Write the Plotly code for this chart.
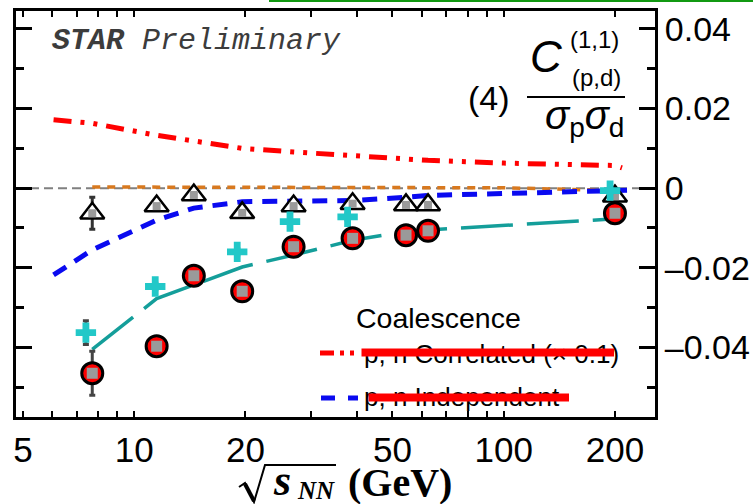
import plotly.graph_objects as go

# ---------------------------------------------------------------- data ----
# collision energies (GeV)
energy = [7.7, 11.5, 14.5, 19.6, 27, 39, 54.4, 62.4, 200]

# STAR preliminary C(1,1)(p,d)/(sigma_p sigma_d) -- red circles
star_val = [-0.0465, -0.0397, -0.0220, -0.0259, -0.0147, -0.0126, -0.0118, -0.0107, -0.0063]
star_err = [0.0055, 0.0010, 0.0010, 0.0010, 0.0008, 0.0008, 0.0008, 0.0008, 0.0008]

# open triangles
tri_val = [-0.0063, -0.0045, -0.0017, -0.0062, -0.0045, -0.0039, -0.0042, -0.0042, -0.0020]
tri_err = [0.0040, 0.0008, 0.0008, 0.0008, 0.0008, 0.0008, 0.0008, 0.0008, 0.0008]

# cyan crosses
cross_energy = [7.4, 11.4, 19.0, 26.4, 37.8, 194]
cross_val = [-0.0363, -0.0247, -0.0160, -0.0084, -0.0072, -0.0006]
cross_err = [0.0030, 0.0008, 0.0008, 0.0008, 0.0008, 0.0008]

# coalescence model: p, n correlated (x 0.1)
corr_energy = [6.05, 7.7, 11.5, 14.5, 19.6, 27, 39, 62.4, 100, 200, 209]
corr_val = [0.0172, 0.0163, 0.0133, 0.0120, 0.0100, 0.0091, 0.0083, 0.0070, 0.0063, 0.0057, 0.0051]

# coalescence model: p, n independent
indep_energy = [6.05, 7.7, 11.5, 14.5, 19.6, 27, 39, 54.4, 62.4, 115, 216]
indep_val = [-0.0218, -0.0155, -0.0080, -0.0050, -0.0034, -0.0033, -0.0031, -0.0023, -0.0018, -0.0012, -0.0005]

# dotted orange model curve
orange_energy = [7.7, 19.6, 39, 62.4, 100, 150, 200]
orange_val = [0.0003, 0.0003, 0.0003, 0.0002, 0.0001, -0.0003, -0.0006]

# long-dashed teal model curve
teal_energy = [7.7, 11.5, 14.5, 19.6, 27, 39, 54.4, 62.4, 200]
teal_val = [-0.0405, -0.02775, -0.0243, -0.0198, -0.0168, -0.0131, -0.0109, -0.0105, -0.0077]

x_ticks = [5, 10, 20, 50, 100, 200]
x_ticktext = ["5", "10", "20", "50", "100", "200"]
x_minor = [6, 7, 8, 9, 30, 40, 60, 70, 80, 90]
x_long = [10, 100]
y_ticks = [-0.04, -0.02, 0, 0.02, 0.04]
y_ticktext = ["\u20130.04", "\u20130.02", "0", "0.02", "0.04"]

# -------------------------------------------------------------- layout ----
W, H = 753, 504
L, R, T, B = 16, 98, 11, 87
PW, PH = W - L - R, H - T - B


def xp(px):
    return (px - L) / PW


def yp(py):
    return (H - B - py) / PH


def path(points):
    return "M " + " L ".join(f"{xp(x):.5f},{yp(y):.5f}" for x, y in points)


SANS = "Liberation Sans"
SERIF = "Liberation Serif"
MONO = "Liberation Mono"

fig = go.Figure()

fig.add_trace(go.Scatter(x=orange_energy, y=orange_val, mode="lines",
                         line=dict(color="#d8791f", width=3.5, dash="8px,7px")))
fig.add_trace(go.Scatter(x=indep_energy, y=indep_val, mode="lines",
                         line=dict(color="#0a0af0", width=5, dash="15px,10px")))
fig.add_trace(go.Scatter(x=corr_energy, y=corr_val, mode="lines",
                         line=dict(color="#ff0000", width=5,
                                   dash="18px,9px,4px,9px,4px,9px")))
fig.add_trace(go.Scatter(x=teal_energy, y=teal_val, mode="lines",
                         line=dict(color="#149e9a", width=3.5, dash="52px,14px")))

# open triangles with systematic boxes
fig.add_trace(go.Scatter(x=energy, y=tri_val, mode="markers",
                         marker=dict(symbol="triangle-up", size=21, color="white",
                                     line=dict(color="black", width=2.5)),
                         error_y=dict(type="data", array=tri_err, color="#333333",
                                      thickness=3, width=3)))
fig.add_trace(go.Scatter(x=energy, y=tri_val, mode="markers",
                         marker=dict(symbol="square", size=8, color="#9a9a9a")))

# cyan crosses
fig.add_trace(go.Scatter(x=cross_energy, y=cross_val, mode="markers",
                         marker=dict(symbol="cross", size=17, color="#22c8c8",
                                     line=dict(width=0)),
                         error_y=dict(type="data", array=cross_err, color="#444444",
                                      thickness=3, width=3)))

# STAR points
fig.add_trace(go.Scatter(x=energy, y=star_val, mode="markers",
                         marker=dict(symbol="circle", size=21, color="#ff0000",
                                     line=dict(color="black", width=3)),
                         error_y=dict(type="data", array=star_err, color="#444444",
                                      thickness=3, width=3)))
fig.add_trace(go.Scatter(x=energy, y=star_val, mode="markers",
                         marker=dict(symbol="square", size=11, color="#9a9a9a")))

shapes = [
    # zero reference line
    dict(type="line", xref="paper", yref="y", x0=0, x1=1, y0=0, y1=0,
         line=dict(color="#808080", width=2, dash="9px,5px"), layer="below"),
    # green rule at the top of the page
    dict(type="line", xref="paper", yref="paper", x0=xp(269), x1=xp(753),
         y0=yp(1), y1=yp(1), line=dict(color="#119911", width=2)),
    # legend samples
    dict(type="line", xref="paper", yref="paper", x0=xp(320), x1=xp(358),
         y0=yp(353), y1=yp(353),
         line=dict(color="#ff0000", width=5, dash="14px,6px,4px,6px,4px,6px")),
    dict(type="line", xref="paper", yref="paper", x0=xp(321), x1=xp(358),
         y0=yp(398), y1=yp(398),
         line=dict(color="#0a0af0", width=5, dash="14px,13px")),
    # fraction bar of the axis title
    dict(type="line", xref="paper", yref="paper", x0=xp(527), x1=xp(625),
         y0=yp(97), y1=yp(97), line=dict(color="black", width=2)),
    # radical sign over s_NN
    dict(type="path", xref="paper", yref="paper",
         path=path([(239, 487), (245, 483), (254, 502), (265, 465), (336, 465)]),
         line=dict(color="black", width=2)),
    dict(type="path", xref="paper", yref="paper",
         path=path([(245, 484), (254, 501)]),
         line=dict(color="black", width=4)),
]


def label(text, x, y, size, family=SANS, color="black", xanchor="center"):
    return dict(text=text, x=xp(x), y=yp(y), xref="paper", yref="paper",
                xanchor=xanchor, yanchor="middle", showarrow=False,
                font=dict(family=family, size=size, color=color))


annotations = [
    label("<b><i>STAR</i></b><i> Preliminary</i>", 50, 41, 30, MONO, "#3c3c3c", "left"),
    label("(4)", 489, 98, 34),
    label("<i>C</i>", 546, 56, 44),
    label("(1,1)", 594, 39, 24),
    label("(p,d)", 596, 77, 24),
    label("<i>\u03c3</i><sub>p</sub><i>\u03c3</i><sub>d</sub>", 584, 118, 40),
    label("Coalescence", 354, 318, 28.5, xanchor="left"),
    label("p, n Correlated (\u00d7 0.1)", 362, 354, 26, xanchor="left"),
    label("p, n Independent", 362, 397, 26, xanchor="left"),
    label("<b><i>s</i></b>", 282, 480, 44, SERIF),
    label("<b><i>NN</i></b>", 316, 491, 25, SERIF),
    label("<b>(GeV)</b>", 346, 482, 40, SERIF, xanchor="left"),
]

# red strike-through bars drawn over the legend text
for x0, x1, y in [(360, 614, 352.5), (367, 569, 397.5)]:
    annotations.append(dict(text="", x=xp(x1), y=yp(y), xref="paper", yref="paper",
                            showarrow=True, arrowhead=0, arrowwidth=8,
                            arrowcolor="#ff0000", ax=-(x1 - x0), ay=0,
                            standoff=0, startstandoff=0))

fig.update_layout(
    width=W, height=H,
    margin=dict(l=L, r=R, t=T, b=B, pad=0, autoexpand=False),
    paper_bgcolor="white", plot_bgcolor="white",
    showlegend=False,
    shapes=shapes, annotations=annotations,
    xaxis=dict(type="log", range=[0.6801, 2.4094], automargin=False,
               tickmode="array", tickvals=x_ticks, ticktext=x_ticktext,
               ticks="inside", ticklen=6, tickwidth=2, tickcolor="black",
               minor=dict(tickmode="array", tickvals=x_minor, ticks="inside",
                          ticklen=6, tickwidth=2, tickcolor="black"),
               showline=True, linewidth=3, linecolor="black", mirror="allticks",
               showgrid=False, zeroline=False,
               tickfont=dict(family=SANS, size=35, color="black")),
    xaxis2=dict(type="log", range=[0.6801, 2.4094], overlaying="x", anchor="y",
                automargin=False,
                tickmode="array", tickvals=x_long, showticklabels=False,
                ticks="inside", ticklen=12, tickwidth=2, tickcolor="black",
                showline=False, mirror="allticks", showgrid=False, zeroline=False),
    yaxis=dict(side="right", range=[-0.05749, 0.04452], automargin=False,
               tickmode="array", tickvals=y_ticks, ticktext=y_ticktext,
               ticks="inside", ticklen=16, tickwidth=2.5, tickcolor="black",
               minor=dict(tickmode="linear", tick0=0, dtick=0.01, ticks="inside",
                          ticklen=8, tickwidth=2.5, tickcolor="black"),
               showline=True, linewidth=3, linecolor="black", mirror="allticks",
               showgrid=False, zeroline=False,
               tickfont=dict(family=SANS, size=34, color="black")),
)

fig.write_html("out.html")
